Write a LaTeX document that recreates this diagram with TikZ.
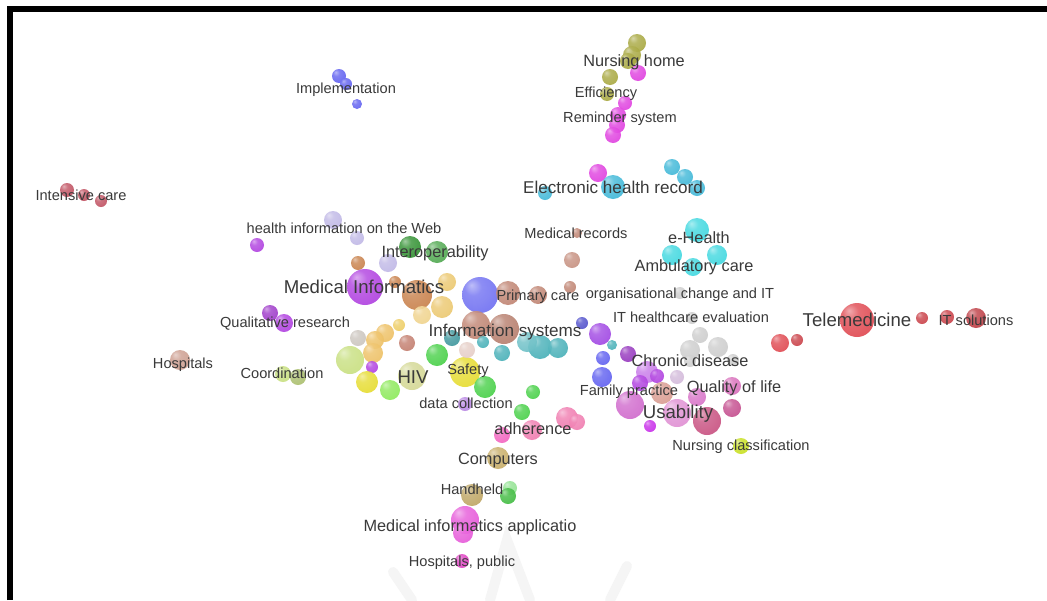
\documentclass[tikz,border=0pt]{standalone}
\usepackage{fontspec}
\setmainfont{Liberation Sans}
\makeatletter
\pgfdeclareradialshading[tikz@ball]{sph}{\pgfqpoint{-12bp}{14bp}}{%
 color(0bp)=(tikz@ball!50!white);
 color(12bp)=(tikz@ball!88!white);
 color(32bp)=(tikz@ball);
 color(50bp)=(tikz@ball!82!black);
 color(66bp)=(tikz@ball!72!black)}
\tikzset{sph color/.code={\pgfutil@colorlet{tikz@ball}{#1}\def\tikz@shading{sph}\tikz@addmode{\tikz@mode@shadetrue}}}
\makeatother
\definecolor{txt}{HTML}{3A3A3A}
\definecolor{olv}{HTML}{A8A840}
\definecolor{mgn}{HTML}{E040E0}
\definecolor{cyn}{HTML}{40B8D8}
\definecolor{cyl}{HTML}{40D8E0}
\definecolor{blu}{HTML}{6060F0}
\definecolor{ird}{HTML}{C05060}
\definecolor{lav}{HTML}{C0B8E6}
\definecolor{prp}{HTML}{B040E0}
\definecolor{dgr}{HTML}{309030}
\definecolor{mgr}{HTML}{50A850}
\definecolor{obr}{HTML}{C8804A}
\definecolor{ylw}{HTML}{ECC870}
\definecolor{brn}{HTML}{C08472}
\definecolor{tea}{HTML}{48B0B8}
\definecolor{gry}{HTML}{CDCDCD}
\definecolor{red}{HTML}{E04850}
\definecolor{grn}{HTML}{48D048}
\definecolor{ygn}{HTML}{C8E080}
\definecolor{yel}{HTML}{E6DC30}
\definecolor{hiv}{HTML}{D4D894}
\definecolor{pnk}{HTML}{F07CB0}
\definecolor{tan}{HTML}{C8AE68}
\definecolor{mpk}{HTML}{D874C8}
\definecolor{prd}{HTML}{C85080}
\definecolor{lgr}{HTML}{C8E020}
\newcommand\bl[4]{\shade[sph color=#4,opacity=0.9] (#1,#2) circle (#3pt);}
\tikzset{
 lbA/.style={font=\fontsize{14.6}{16}\selectfont,text=txt,inner sep=0pt,text height=10.5pt,text depth=0pt},
 lbB/.style={font=\fontsize{16.3}{18}\selectfont,text=txt,inner sep=0pt,text height=11.7pt,text depth=0pt},
 lbC/.style={font=\fontsize{17.1}{19}\selectfont,text=txt,inner sep=0pt,text height=12.2pt,text depth=0pt},
 lbD/.style={font=\fontsize{18.6}{20}\selectfont,text=txt,inner sep=0pt,text height=13.3pt,text depth=0pt},
 wm/.style={draw=black!4,line width=10pt,line cap=round}
}
\begin{document}
\begin{tikzpicture}[x=1pt,y=-1pt]
\useasboundingbox (0,0) rectangle (1047,600);
\fill[white] (0,0) rectangle (1047,600);
% faint watermark
\draw[wm] (393,572) -- (412,600);
\draw[wm] (490,600) -- (507,540) -- (530,600);
\draw[wm] (627,566) -- (610,600);
% frame
\draw[line width=6pt,miter limit=4] (10,600) -- (10,9) -- (1047,9);
% top cluster
\bl{637}{43}{9}{olv}\bl{632}{55}{9}{olv}\bl{628}{61}{8}{olv}
\bl{638}{73}{8}{mgn}
\bl{610}{77}{8}{olv}\bl{607}{94}{7}{olv}
\bl{625}{103}{7}{mgn}\bl{618}{115}{8}{mgn}\bl{617}{125}{8}{mgn}\bl{613}{135}{8}{mgn}
\bl{598}{173}{9}{mgn}
\bl{613}{187}{12}{cyn}\bl{672}{167}{8}{cyn}\bl{685}{177}{8}{cyn}\bl{697}{188}{8}{cyn}\bl{545}{193}{7}{cyn}
% implementation, intensive care
\bl{339}{76}{7}{blu}\bl{346}{84}{6}{blu}\bl{357}{104}{5}{blu}
\bl{67}{190}{7}{ird}\bl{84}{195}{6}{ird}\bl{101}{201}{6}{ird}
% left-centre
\bl{333}{220}{9}{lav}\bl{357}{238}{7}{lav}\bl{257}{245}{7}{prp}
\bl{410}{247}{11}{dgr}\bl{437}{252}{11}{mgr}
\bl{358}{263}{7}{obr}\bl{388}{263}{9}{lav}
\bl{365}{287}{18}{prp}\bl{395}{282}{6}{obr}\bl{417}{295}{15}{obr}
\bl{447}{282}{9}{ylw}\bl{442}{307}{11}{ylw}\bl{422}{315}{9}{ylw!80!white}
\bl{270}{313}{8}{prp!90!black}\bl{284}{323}{9}{prp}
\bl{180}{360}{10}{brn!80!white}
\bl{283}{374}{8}{ygn}\bl{298}{377}{8}{ygn!85!black}
\bl{399}{325}{6}{ylw!90!yellow}\bl{358}{338}{8}{gry!90!brown}
\bl{385}{333}{9}{ylw!90!orange}\bl{375}{340}{9}{ylw!90!orange}
\bl{407}{343}{8}{brn!90!red}\bl{452}{338}{8}{tea!85!black}
\bl{350}{360}{14}{ygn}\bl{373}{353}{10}{ylw!90!orange}\bl{372}{367}{6}{prp}
\bl{437}{355}{11}{grn}\bl{367}{382}{11}{yel}\bl{390}{390}{10}{ygn!70!green}
\bl{412}{376}{14}{hiv}\bl{465}{372}{15}{yel}\bl{485}{387}{11}{grn}
\bl{467}{350}{8}{brn!40!white}
% primary care / info systems
\bl{480}{295}{18}{blu!90!white}
\bl{508}{293}{12}{brn}\bl{538}{295}{9}{brn}\bl{570}{287}{6}{brn}
\bl{577}{233}{5}{brn}\bl{572}{260}{8}{brn!90!white}
\bl{476}{325}{14}{brn}\bl{504}{329}{15}{brn!95!black}
\bl{540}{347}{12}{tea}\bl{558}{348}{10}{tea}\bl{527}{342}{10}{tea!80!white}
\bl{502}{353}{8}{tea}\bl{483}{342}{6}{tea}
% blue/purple right of centre
\bl{582}{323}{6}{blu!85!black}\bl{600}{334}{11}{prp!80!blu}\bl{612}{345}{5}{tea}
\bl{603}{358}{7}{blu}\bl{602}{377}{10}{blu}
\bl{628}{354}{8}{prp!85!black}\bl{647}{372}{11}{prp!70!white}\bl{657}{376}{7}{prp}
\bl{640}{383}{8}{prp}\bl{677}{377}{7}{lav!70!pink}
% e-Health
\bl{697}{230}{12}{cyl}\bl{672}{255}{10}{cyl}\bl{717}{255}{10}{cyl}\bl{693}{267}{9}{cyl}
% gray
\bl{680}{293}{6}{gry}\bl{692}{318}{6}{gry}\bl{700}{335}{8}{gry}
\bl{690}{350}{10}{gry}\bl{718}{347}{10}{gry}\bl{690}{361}{6}{gry}\bl{733}{360}{6}{gry}
% telemedicine
\bl{857}{320}{17}{red}\bl{922}{318}{6}{red!90!black}\bl{947}{317}{7}{red!90!black}
\bl{976}{318}{10}{red!85!black}\bl{780}{343}{9}{red}\bl{797}{340}{6}{red!90!black}
% usability cluster
\bl{662}{393}{11}{brn!60!pink}\bl{630}{405}{14}{mpk!80!prp}
\bl{697}{397}{9}{mpk}\bl{677}{413}{14}{mpk!80!white}\bl{707}{421}{14}{prd}
\bl{732}{386}{9}{mpk!90!red}\bl{732}{408}{9}{prd!85!prp}
\bl{650}{426}{6}{prp!70!magenta}
\bl{741}{446}{8}{lgr}
% bottom
\bl{533}{392}{7}{grn}\bl{522}{412}{8}{grn}
\bl{465}{404}{7}{lav!60!prp}
\bl{567}{418}{11}{pnk}\bl{577}{422}{8}{pnk}
\bl{502}{435}{8}{pnk!80!magenta}\bl{532}{430}{10}{pnk}
\bl{498}{458}{11}{tan}
\bl{510}{488}{7}{grn!60!white}\bl{508}{496}{8}{grn!90!black}
\bl{472}{495}{11}{tan!95!black}
\bl{465}{520}{14}{mgn!80!pink}\bl{463}{533}{10}{mgn!80!pink}
\bl{462}{561}{7}{mgn!80!red}
% labels
\node[lbA] (impl) at (346,88) {Implementation};
\node[lbA] (icu) at (81,195) {Intensive care};
\node[lbB] (nh) at (634,61) {Nursing home};
\node[lbA] (eff) at (606,92) {Efficiency};
\node[lbA] (rem) at (620,117) {Reminder system};
\node[lbC] (ehr) at (613,187) {Electronic health record};
\node[lbA] (hiw) at (344,228) {health information on the Web};
\node[lbB] (iop) at (435,252) {Interoperability};
\node[lbA] (mr) at (576,233) {Medical records};
\node[lbB] (eh) at (699,238) {e-Health};
\node[lbB] (amb) at (694,266) {Ambulatory care};
\node[lbD] (mi) at (364,287) {Medical Informatics};
\node[lbA] (pc) at (538,295) {Primary care};
\node[lbA] (oc) at (680,293) {organisational change and IT};
\node[lbA] (qr) at (285,322) {Qualitative research};
\node[lbC] (is) at (505,330) {Information systems};
\node[lbA] (ite) at (691,317) {IT healthcare evaluation};
\node[lbD] (tm) at (857,320) {Telemedicine};
\node[lbA] (its) at (976,320) {IT solutions};
\node[lbA] (hos) at (183,363) {Hospitals};
\node[lbA] (coo) at (282,373) {Coordination};
\node[lbD] (hiv) at (413,377) {HIV};
\node[lbA] (saf) at (468,369) {Safety};
\node[lbB] (cd) at (690,361) {Chronic disease};
\node[lbA] (fp) at (629,390) {Family practice};
\node[lbB] (ql) at (734,387) {Quality of life};
\node[lbA] (dc) at (466,403) {data collection};
\node[lbD] (us) at (678,412) {Usability};
\node[lbB] (adh) at (533,429) {adherence};
\node[lbA] (nc) at (741,445) {Nursing classification};
\node[lbB] (comp) at (498,459) {Computers};
\node[lbA] (hh) at (472,489) {Handheld};
\node[lbB] (mia) at (470,526) {Medical informatics applicatio};
\node[lbA] (hp) at (462,561) {Hospitals, public};
\end{tikzpicture}
\end{document}
